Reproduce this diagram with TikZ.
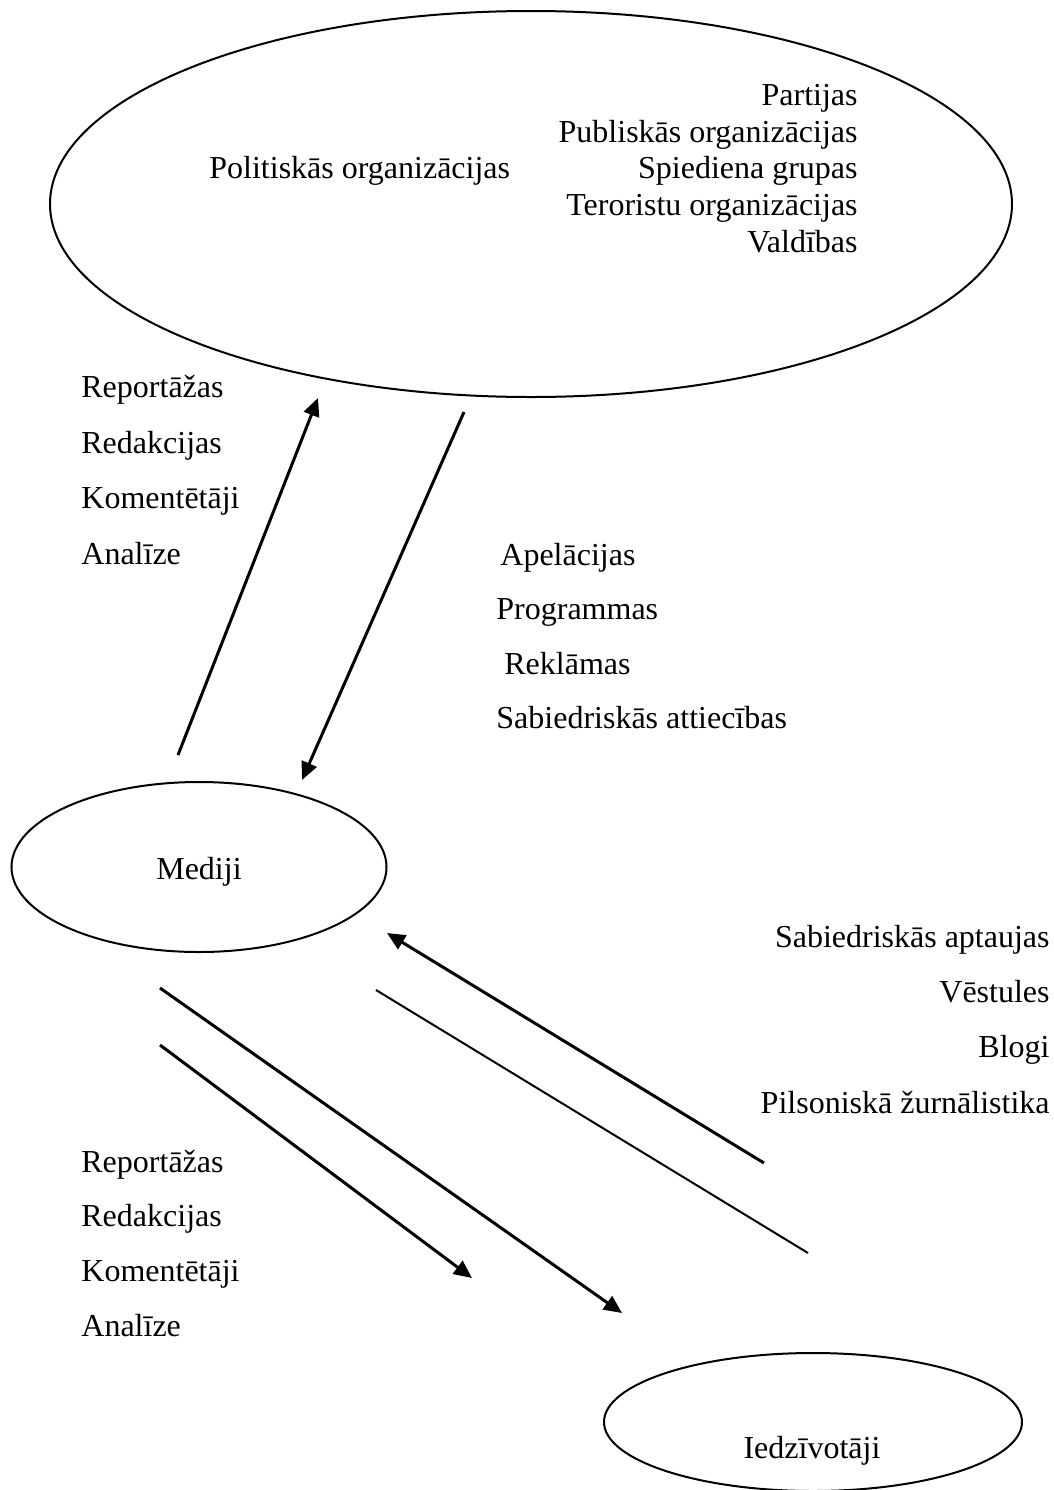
\documentclass[tikz,border=0pt]{standalone}
\usepackage{fontspec}
\setmainfont{Liberation Serif}
\usetikzlibrary{shapes,arrows.meta,positioning}

\begin{document}
\begin{tikzpicture}[x=0.5pt, y=-0.5pt,
    oval/.style={ellipse, draw, line width=1pt, inner sep=0pt},
    lbl/.style={inner sep=0pt, font=\fontsize{16}{19}\selectfont},
    flow/.style={-{Triangle[length=9pt,width=8pt]}, line width=1.5pt}]
    \useasboundingbox (0,0) rectangle (1054,1490);

    % ovals
    \node [oval, minimum width=481pt, minimum height=193pt] (politics) at (531,204) {};
    \node [oval, minimum width=187.5pt, minimum height=85pt] (media) at (199,867) {};
    \node [oval, minimum width=209pt, minimum height=69pt] (people) at (813,1422) {};

    \node [lbl, anchor=base west] (polorg) at (209,178) {Politiskās organizācijas};
    \node [lbl, anchor=base east] (party) at (858,105) {Partijas};
    \node [lbl, anchor=base east] (public) at (858,142) {Publiskās organizācijas};
    \node [lbl, anchor=base east] (pressure) at (858,178) {Spiediena grupas};
    \node [lbl, anchor=base east] (terror) at (858,215) {Teroristu organizācijas};
    \node [lbl, anchor=base east] (govt) at (858,252) {Valdības};
    \node [lbl, anchor=base] (medialbl) at (199,879) {Mediji};
    \node [lbl, anchor=base] (peoplelbl) at (812,1458) {Iedzīvotāji};

    % media -> politics
    \node [lbl, anchor=base west] (rep1) at (81,397) {Reportāžas};
    \node [lbl, anchor=base west] (red1) at (81,453) {Redakcijas};
    \node [lbl, anchor=base west] (kom1) at (81,508) {Komentētāji};
    \node [lbl, anchor=base west] (ana1) at (81,564) {Analīze};

    % politics -> media
    \node [lbl, anchor=base west] (apel) at (500,565) {Apelācijas};
    \node [lbl, anchor=base west] (prog) at (496,619) {Programmas};
    \node [lbl, anchor=base west] (rekl) at (504,674) {Reklāmas};
    \node [lbl, anchor=base west] (pr) at (496,728) {Sabiedriskās attiecības};

    % people -> media
    \node [lbl, anchor=base east] (polls) at (1050,947) {Sabiedriskās aptaujas};
    \node [lbl, anchor=base east] (letters) at (1050,1002) {Vēstules};
    \node [lbl, anchor=base east] (blogs) at (1050,1057) {Blogi};
    \node [lbl, anchor=base east] (citizen) at (1050,1113) {Pilsoniskā žurnālistika};

    % media -> people
    \node [lbl, anchor=base west] (rep2) at (81,1172) {Reportāžas};
    \node [lbl, anchor=base west] (red2) at (81,1226) {Redakcijas};
    \node [lbl, anchor=base west] (kom2) at (81,1281) {Komentētāji};
    \node [lbl, anchor=base west] (ana2) at (81,1336) {Analīze};

    % arrow ends
    \coordinate (upA) at (178,755);
    \coordinate (upB) at (318,398);
    \coordinate (downA) at (464,412);
    \coordinate (downB) at (302,780);
    \coordinate (backA) at (764,1163);
    \coordinate (backB) at (387,933);
    \coordinate (lineA) at (376,990);
    \coordinate (lineB) at (808,1253);
    \coordinate (outA) at (160,1045);
    \coordinate (outB) at (472,1278);
    \coordinate (out2A) at (160,988);
    \coordinate (out2B) at (622,1313);

    \draw [flow] (upA) -- (upB);
    \draw [flow] (downA) -- (downB);
    \draw [flow] (backA) -- (backB);
    \draw [line width=1pt] (lineA) -- (lineB);
    \draw [flow] (outA) -- (outB);
    \draw [flow] (out2A) -- (out2B);
\end{tikzpicture}
\end{document}
